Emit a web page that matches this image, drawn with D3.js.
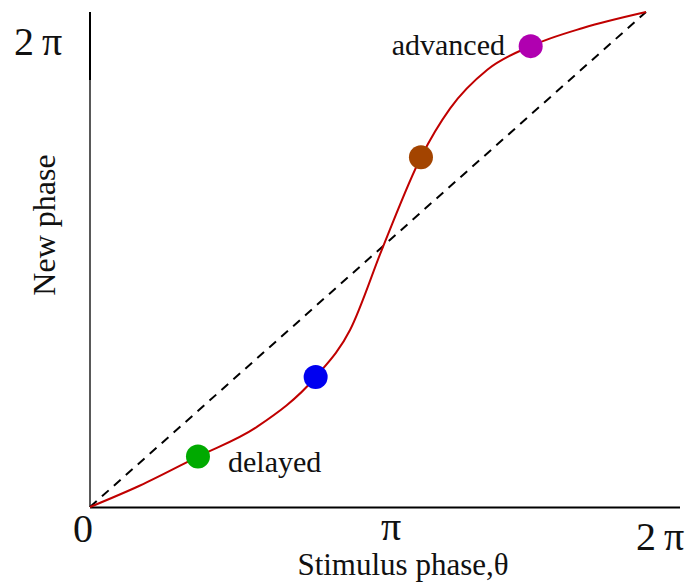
<!DOCTYPE html>
<html>
<head>
<meta charset="utf-8">
<script src="https://cdn.jsdelivr.net/npm/d3@7"></script>
<style>
  body { margin: 0; background: #fff; }
  text { font-family: "Liberation Serif", "DejaVu Serif", serif; fill: #111; }
</style>
</head>
<body>
<div id="chart"></div>
<script>
const TWO_PI = 2 * Math.PI;

// phase response curve (radians)
const stimPhase = [0, 0.56, 1.22, 1.89, 2.55, 2.94, 3.31, 3.74, 4.07, 4.49, 4.98, 5.57, TWO_PI];
const newPhase  = [0, 0.27, 0.64, 1.02, 1.65, 2.25, 3.30, 4.44, 5.06, 5.55, 5.85, 6.08, TWO_PI];

// highlighted points
const markerX = [1.22, 2.55, 3.74, 4.98];
const markerY = [0.64, 1.65, 4.44, 5.85];
const markerColors = ['#00aa00', '#0000f0', '#a34400', '#b000b0'];

const xTicks = [0, Math.PI, TWO_PI];
const xTickLabels = ['0', 'π', '2\u2009π'];
const yTickLabels = ['2\u2009π'];

const width = 689, height = 585;

const svg = d3.select('#chart')
  .append('svg')
  .attr('width', width)
  .attr('height', height);

const x = d3.scaleLinear().domain([0, TWO_PI]).range([90, 646]);
const y = d3.scaleLinear().domain([0, TWO_PI]).range([507, 12]);

// axes
svg.append('line')
  .attr('x1', x(0)).attr('x2', width - 9)
  .attr('y1', y(0) + 0.5).attr('y2', y(0) + 0.5)
  .attr('stroke', '#000').attr('stroke-width', 2);

svg.append('line')
  .attr('x1', x(0)).attr('x2', x(0))
  .attr('y1', y(0)).attr('y2', y(TWO_PI))
  .attr('stroke', '#222').attr('stroke-width', 1.5);

// darker top segment of the y axis
svg.append('line')
  .attr('x1', x(0)).attr('x2', x(0))
  .attr('y1', y(TWO_PI)).attr('y2', y(TWO_PI) + 68)
  .attr('stroke', '#000').attr('stroke-width', 2);

// identity line
svg.append('line')
  .attr('x1', x(0)).attr('y1', y(0))
  .attr('x2', x(TWO_PI)).attr('y2', y(TWO_PI))
  .attr('stroke', '#000')
  .attr('stroke-width', 2)
  .attr('stroke-dasharray', '9,7');

// curve
const curveData = stimPhase.map((d, i) => ({ s: d, n: newPhase[i] }));
const line = d3.line()
  .x(d => x(d.s))
  .y(d => y(d.n))
  .curve(d3.curveMonotoneX);

svg.append('path')
  .datum(curveData)
  .attr('fill', 'none')
  .attr('stroke', '#c00000')
  .attr('stroke-width', 2)
  .attr('d', line);

// markers
svg.selectAll('circle.marker')
  .data(markerX)
  .enter()
  .append('circle')
  .attr('class', 'marker')
  .attr('cx', d => x(d))
  .attr('cy', (d, i) => y(markerY[i]))
  .attr('r', 12)
  .attr('fill', (d, i) => markerColors[i]);

// x tick labels
const xOffsets = [-7, 23, 14];
const xBase = [542, 540, 550];
svg.selectAll('text.xtick')
  .data(xTicks)
  .enter()
  .append('text')
  .attr('class', 'xtick')
  .attr('x', (d, i) => x(d) + xOffsets[i])
  .attr('y', (d, i) => xBase[i])
  .attr('text-anchor', 'middle')
  .style('font-size', '40px')
  .text((d, i) => xTickLabels[i]);

// y tick label
svg.append('text')
  .attr('x', 38)
  .attr('y', 55)
  .attr('text-anchor', 'middle')
  .style('font-size', '40px')
  .text(yTickLabels[0]);

// axis titles
svg.append('text')
  .attr('x', 403)
  .attr('y', 575)
  .attr('text-anchor', 'middle')
  .style('font-size', '31px')
  .text('Stimulus phase,θ');

svg.append('text')
  .attr('transform', 'translate(55,225) rotate(-90)')
  .attr('text-anchor', 'middle')
  .style('font-size', '32px')
  .text('New phase');

// annotations
svg.append('text')
  .attr('x', 228)
  .attr('y', 472)
  .style('font-size', '30px')
  .text('delayed');

svg.append('text')
  .attr('x', 505)
  .attr('y', 55)
  .attr('text-anchor', 'end')
  .style('font-size', '30px')
  .text('advanced');
</script>
</body>
</html>
